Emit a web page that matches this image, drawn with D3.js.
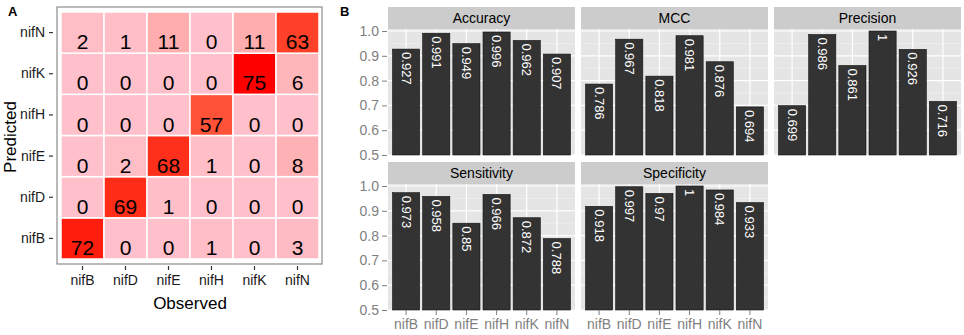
<!DOCTYPE html>
<html>
<head>
<meta charset="utf-8">
<script src="https://cdn.jsdelivr.net/npm/d3@7"></script>
<style>
  body { margin: 0; background: #fff; }
  svg { display: block; font-family: "Liberation Sans", Arial, sans-serif; }
</style>
</head>
<body>
<div class="chart"></div>
<script>
const genes = ["nifB", "nifD", "nifE", "nifH", "nifK", "nifN"];

// confusion matrix rows = predicted, columns = observed
const predNifB = [72, 0, 0, 1, 0, 3];
const predNifD = [0, 69, 1, 0, 0, 0];
const predNifE = [0, 2, 68, 1, 0, 8];
const predNifH = [0, 0, 0, 57, 0, 0];
const predNifK = [0, 0, 0, 0, 75, 6];
const predNifN = [2, 1, 11, 0, 11, 63];

const metricNames = ["Accuracy", "MCC", "Precision", "Sensitivity", "Specificity"];
const accuracy = [0.927, 0.991, 0.949, 0.996, 0.962, 0.907];
const mcc = [0.786, 0.967, 0.818, 0.981, 0.876, 0.694];
const precision = [0.699, 0.986, 0.861, 1, 0.926, 0.716];
const sensitivity = [0.973, 0.958, 0.85, 0.966, 0.872, 0.788];
const specificity = [0.918, 0.997, 0.97, 1, 0.984, 0.933];
const yTicks = [0.5, 0.6, 0.7, 0.8, 0.9, 1.0];

const width = 964;
const height = 335;

const svg = d3.select(".chart").append("svg")
  .attr("width", width)
  .attr("height", height);

// ---------- panel A : confusion matrix ----------
const rows = [predNifB, predNifD, predNifE, predNifH, predNifK, predNifN];
const cells = [];
rows.forEach((r, i) => {
  r.forEach((v, j) => cells.push({pred: genes[i], obs: genes[j], n: v}));
});

const ax = d3.scaleBand().domain(genes).range([61, 319]);
const ay = d3.scaleBand().domain(genes).range([259, 12]);
const fill = d3.scaleLinear()
  .domain([0, d3.max(cells, (d) => d.n)])
  .range(["pink", "red"])
  .interpolate(d3.interpolateLab);

svg.append("text")
  .attr("x", 8).attr("y", 16)
  .style("font-size", "13px").style("font-weight", "bold")
  .text("A");

svg.append("rect")
  .attr("x", 57).attr("y", 7)
  .attr("width", 265).attr("height", 257)
  .attr("fill", "#fff")
  .attr("stroke", "#8c8c8c")
  .attr("stroke-width", 1.2);

const tiles = svg.append("g").attr("class", "tiles")
  .selectAll("g").data(cells).enter().append("g");

tiles.append("rect")
  .attr("x", (d) => ax(d.obs))
  .attr("y", (d) => ay(d.pred))
  .attr("width", ax.bandwidth())
  .attr("height", ay.bandwidth())
  .attr("fill", (d) => fill(d.n))
  .attr("stroke", "#fff")
  .attr("stroke-width", 1.5);

tiles.append("text")
  .attr("x", (d) => ax(d.obs) + ax.bandwidth() / 2)
  .attr("y", (d) => ay(d.pred) + ay.bandwidth() - 4)
  .attr("text-anchor", "middle")
  .style("font-size", "21px")
  .style("fill", "#000")
  .text((d) => d.n);

const aLeft = svg.append("g")
  .attr("transform", "translate(53,0)")
  .call(d3.axisLeft(ay).tickSize(4).tickPadding(4));
const aBottom = svg.append("g")
  .attr("transform", "translate(0,266)")
  .call(d3.axisBottom(ax).tickSize(4).tickPadding(5));
[aLeft, aBottom].forEach((g) => {
  g.select(".domain").remove();
  g.selectAll("line").attr("stroke", "#333").attr("stroke-width", 1.2);
  g.selectAll("text").style("font-size", "14px").style("fill", "#1a1a1a")
    .style("font-family", "'Liberation Sans', Arial, sans-serif");
});

svg.append("text")
  .attr("x", 190).attr("y", 309)
  .attr("text-anchor", "middle")
  .style("font-size", "17px")
  .text("Observed");

svg.append("text")
  .attr("transform", "translate(16,137) rotate(-90)")
  .attr("text-anchor", "middle")
  .style("font-size", "17px")
  .text("Predicted");

// ---------- panel B : faceted bars ----------
const metricValues = [accuracy, mcc, precision, sensitivity, specificity];
const colX = [388, 581, 774];
const rowTop = [7, 162];
const panelW = 187;
const stripH = 22;
const panelH = 126;

svg.append("text")
  .attr("x", 340).attr("y", 16)
  .style("font-size", "13px").style("font-weight", "bold")
  .text("B");

const bx = d3.scaleBand().domain(genes)
  .range([0, panelW])
  .paddingInner(0.1)
  .paddingOuter(0.15);
const by = d3.scaleLinear().domain([0.5, 1.0]).range([panelH, 2]);
const minorTicks = [0.55, 0.65, 0.75, 0.85, 0.95];

metricNames.forEach((name, k) => {
  const col = k % 3;
  const row = Math.floor(k / 3);
  const g = svg.append("g")
    .attr("transform", `translate(${colX[col]}, ${rowTop[row]})`);

  // strip
  g.append("rect")
    .attr("width", panelW).attr("height", stripH)
    .attr("fill", "#cccccc");
  g.append("text")
    .attr("x", panelW / 2).attr("y", stripH / 2 + 5)
    .attr("text-anchor", "middle")
    .style("font-size", "14px")
    .text(name);

  const p = g.append("g").attr("transform", `translate(0, ${stripH})`);
  p.append("rect")
    .attr("width", panelW).attr("height", panelH)
    .attr("fill", "#e5e5e5");

  p.selectAll(".minor").data(minorTicks).enter().append("line")
    .attr("x1", 0).attr("x2", panelW)
    .attr("y1", (d) => by(d)).attr("y2", (d) => by(d))
    .attr("stroke", "#f2f2f2").attr("stroke-width", 0.6);
  p.selectAll(".major").data(yTicks).enter().append("line")
    .attr("x1", 0).attr("x2", panelW)
    .attr("y1", (d) => by(d)).attr("y2", (d) => by(d))
    .attr("stroke", "#fff").attr("stroke-width", 1.2);
  p.selectAll(".vgrid").data(genes).enter().append("line")
    .attr("x1", (d) => bx(d) + bx.bandwidth() / 2)
    .attr("x2", (d) => bx(d) + bx.bandwidth() / 2)
    .attr("y1", 0).attr("y2", panelH)
    .attr("stroke", "#fff").attr("stroke-width", 1.2);

  const vals = metricValues[k].map((v, i) => ({gene: genes[i], v: v}));

  p.selectAll(".bar").data(vals).enter().append("rect")
    .attr("x", (d) => bx(d.gene))
    .attr("y", (d) => by(d.v))
    .attr("width", bx.bandwidth())
    .attr("height", (d) => by(0.5) - by(d.v))
    .attr("fill", "#333333")
    .attr("stroke", "#111")
    .attr("stroke-width", 0.6);

  p.selectAll(".lbl").data(vals).enter().append("text")
    .attr("transform", (d) =>
      `translate(${bx(d.gene) + bx.bandwidth() / 2}, ${by(d.v) + 3}) rotate(90)`)
    .attr("dy", "0.35em")
    .style("font-size", "13px")
    .style("fill", "#fff")
    .text((d) => d.v);

  if (col === 0) {
    const yAxis = p.append("g")
      .attr("transform", "translate(-1,0)")
      .call(d3.axisLeft(by).tickValues(yTicks).tickFormat(d3.format(".1f"))
        .tickSize(5).tickPadding(3));
    yAxis.select(".domain").remove();
    yAxis.selectAll("line").attr("stroke", "#7f7f7f");
    yAxis.selectAll("text").style("font-size", "14px").style("fill", "#7f7f7f")
      .style("font-family", "'Liberation Sans', Arial, sans-serif");
  }
  if (row === 1) {
    const xAxis = p.append("g")
      .attr("transform", `translate(0, ${panelH})`)
      .call(d3.axisBottom(bx).tickSize(5).tickPadding(4));
    xAxis.select(".domain").remove();
    xAxis.selectAll("line").attr("stroke", "#7f7f7f");
    xAxis.selectAll("text").style("font-size", "14px").style("fill", "#7f7f7f")
      .style("font-family", "'Liberation Sans', Arial, sans-serif");
  }
});
</script>
</body>
</html>
